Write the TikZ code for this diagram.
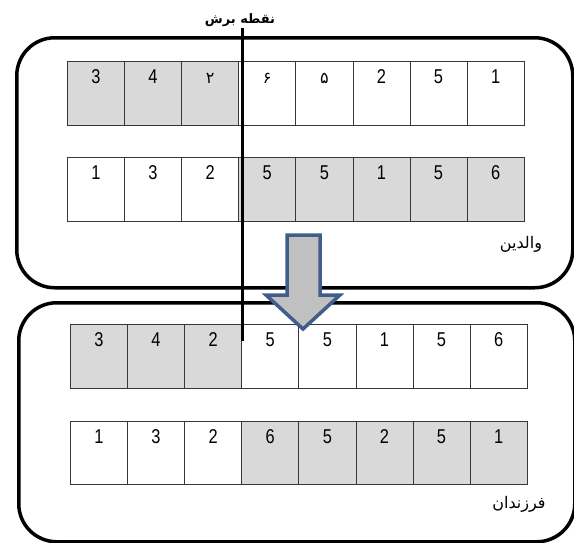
\documentclass[tikz,border=0pt]{standalone}
\usepackage{fontspec}
\newfontfamily\fa[Script=Arabic]{DejaVu Sans}
\newfontfamily\digfont[FakeStretch=0.82]{Liberation Sans}
\TeXXeTstate=1
\usetikzlibrary{positioning,calc}
\definecolor{cellgray}{RGB}{217,217,217}
\definecolor{cellline}{RGB}{55,55,55}
\definecolor{arrfill}{RGB}{192,192,192}
\definecolor{arrline}{RGB}{63,94,140}
\tikzset{
  grp/.style  ={draw,line width=3.5pt,rounded corners=38pt,anchor=north west,
                inner sep=0pt},
  cellw/.style={draw=cellline,line width=0.8pt,fill=white,anchor=north west,
                minimum width=57.1pt,minimum height=64pt,inner sep=0pt},
  cellg/.style={cellw,fill=cellgray},
  dig/.style  ={anchor=base,inner sep=0pt,
                font=\digfont\fontsize{20}{20}\selectfont},
  lbl/.style  ={inner sep=0pt,font=\fa\fontsize{16}{18}\selectfont},
  cutl/.style ={line width=3pt},
  blk/.style  ={line width=3.5pt,draw=arrline,fill=arrfill,line join=miter},
}
\newcommand{\fd}[1]{{\fa\fontsize{16}{16}\selectfont #1}}

\begin{document}
\begin{tikzpicture}[x=1pt,y=-1pt]
\useasboundingbox (0,0) rectangle (574,542);
\node[grp,minimum width=556pt,minimum height=250pt] (par) at (15,36) {};
\node[grp,minimum width=556pt,minimum height=239pt] (chl) at (17,301) {};
\foreach \v/\s [count=\i] in {3/g,4/g,\fd{٢}/g,\fd{۶}/w,\fd{۵}/w,2/w,5/w,1/w}{
  \node[cell\s] (p1c\i) at ({67+57.1*(\i-1)},61) {};
  \node[dig] (p1d\i) at ([yshift=-22pt]p1c\i.north) {\v};
}
\foreach \v/\s [count=\i] in {1/w,3/w,2/w,5/g,5/g,1/g,5/g,6/g}{
  \node[cell\s] (p2c\i) at ({67+57.1*(\i-1)},157) {};
  \node[dig] (p2d\i) at ([yshift=-22pt]p2c\i.north) {\v};
}
\foreach \v/\s [count=\i] in {3/g,4/g,2/g,5/w,5/w,1/w,5/w,6/w}{
  \node[cell\s] (f1c\i) at ({70+57.1*(\i-1)},324) {};
  \node[dig] (f1d\i) at ([yshift=-22pt]f1c\i.north) {\v};
}
\foreach \v/\s [count=\i] in {1/w,3/w,2/w,6/g,5/g,2/g,5/g,1/g}{
  \node[cell\s,minimum height=63pt] (f2c\i) at ({70+57.1*(\i-1)},421) {};
  \node[dig] (f2d\i) at ([yshift=-22pt]f2c\i.north) {\v};
}
\node[inner sep=0pt,font=\fa\bfseries\fontsize{13}{15}\selectfont] (cut) at (240,20)
  {\beginR نقطه برش\endR};
\coordinate (cuttop) at (242,28);
\coordinate (cutend) at (242,341);
\draw[cutl] (cuttop) -- (cutend);
\draw[blk] (287,235) -- (320,235) -- (320,295) -- (340,295) -- (303,329)
  -- (266,295) -- (287,295) -- cycle;
\node[lbl] (lpar) at (521,244) {\beginR والدین\endR};
\node[lbl] (lchl) at (519,504) {\beginR فرزندان\endR};
\end{tikzpicture}
\end{document}
